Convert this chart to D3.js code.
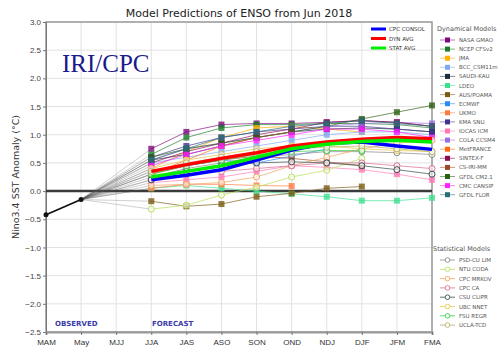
<!DOCTYPE html>
<html>
<head>
<meta charset="utf-8">
<script src="https://cdn.jsdelivr.net/npm/d3@7"></script>
<style>
  body { margin: 0; background: #fff; }
  svg { display: block; font-family: "DejaVu Sans", sans-serif; }
</style>
</head>
<body>
<div id="chart"></div>
<script>
// Seasons on the x axis
const seasons = ["MAM", "May", "MJJ", "JJA", "JAS", "ASO", "SON", "OND", "NDJ", "DJF", "JFM", "FMA"];
const forecastSeasons = seasons.slice(3);
const yTicks = [-2.5, -2.0, -1.5, -1.0, -0.5, 0.0, 0.5, 1.0, 1.5, 2.0, 2.5, 3.0];

// Observed values (MAM, May)
const observed = [-0.42, -0.15];

// Dynamical models, JJA..FMA
const dynNames = ["NASA GMAO", "NCEP CFSv2", "JMA", "BCC_CSM11m", "SAUDI-KAU", "LDEO", "AUS/POAMA", "ECMWF", "UKMO",
  "KMA SNU", "IOCAS ICM", "COLA CCSM4", "MetFRANCE", "SINTEX-F", "CS-IRI-MM", "GFDL CM2.1", "CMC CANSIP", "GFDL FLOR"];
const dynColors = ["#7d0a7d", "#1b7d2a", "#ffb000", "#7fa8f0", "#1e2d3c", "#3de08f", "#7a5a12", "#2a8cf0", "#ff7a40",
  "#3f3590", "#ff78b4", "#9a6ee0", "#ff6a10", "#8a0c55", "#9a4a28", "#2d5f12", "#ff20ff", "#2a6e7a"];
const dynValues = [
  [0.75, 1.05, 1.18, 1.20, 1.20, 1.22, 1.25, 1.22, 1.15],
  [0.65, 0.95, 1.12, 1.18, 1.18, 1.20, 1.20, 1.18, 1.12],
  [0.40, 0.70, 0.95, 1.12, 1.15, 1.10, 1.05, null, null],
  [0.50, 0.60, 0.70, 0.80, 0.90, 1.00, 1.05, 1.05, 1.00],
  [0.55, 0.65, 0.80, 0.95, 1.05, 1.10, 1.12, 1.10, 1.05],
  [0.05, 0.10, 0.05, 0.00, -0.05, -0.10, -0.17, -0.17, -0.12],
  [-0.18, -0.27, -0.23, -0.10, -0.04, 0.05, 0.08, null, null],
  [0.35, 0.45, 0.55, 0.50, 0.62, 0.75, null, null, null],
  [0.05, 0.12, 0.12, 0.10, 0.09, null, null, null, null],
  [0.60, 0.80, 0.95, 1.05, 1.10, 1.15, 1.15, 1.10, 1.05],
  [0.15, 0.20, 0.25, 0.35, 0.45, 0.42, 0.38, 0.30, 0.20],
  [0.55, 0.75, 0.85, 0.95, 1.05, 1.15, 1.20, 1.22, 1.20],
  [0.30, 0.55, 0.80, 0.95, 1.05, null, null, null, null],
  [0.50, 0.70, 0.85, 1.00, 1.10, 1.22, 1.25, 1.22, 1.15],
  [0.30, 0.45, 0.55, 0.62, 0.58, 0.52, 0.45, null, null],
  [0.60, 0.75, 0.85, 0.95, 1.05, 1.15, 1.28, 1.40, 1.52],
  [0.45, 0.65, 0.80, 0.90, 1.00, 1.10, 1.10, 1.05, 0.95],
  [0.55, 0.75, 0.95, 1.05, 1.15, 1.20, 1.25, 1.20, 1.15]
];

// Statistical models, JJA..FMA
const statNames = ["PSD-CU LIM", "NTU CODA", "CPC MRKOV", "CPC CA", "CSU CLIPR", "UBC NNET", "FSU REGR", "UCLA-TCD"];
const statColors = ["#8a8a8a", "#b8e05a", "#f4a460", "#d9708f", "#3a5050", "#e6c84a", "#3ccf4a", "#b8b070"];
const statValues = [
  [0.25, 0.40, 0.50, 0.60, 0.65, 0.70, 0.70, 0.68, 0.65],
  [-0.32, -0.25, -0.07, 0.07, 0.25, 0.37, 0.58, null, null],
  [0.10, 0.12, 0.15, 0.25, 0.45, 0.60, 0.75, 0.85, 0.90],
  [0.20, 0.30, 0.35, 0.40, 0.45, 0.50, 0.50, 0.45, 0.40],
  [0.20, 0.35, 0.45, 0.50, 0.52, 0.50, 0.45, 0.38, 0.30],
  [0.40, 0.55, 0.65, 0.75, 0.80, 0.80, 0.75, 0.72, 0.70],
  [0.30, 0.45, 0.55, 0.65, 0.70, 0.72, 0.72, null, null],
  [0.35, 0.50, 0.60, 0.70, 0.75, 0.78, 0.80, 0.75, 0.70]
];

// Averages, JJA..FMA
const avgNames = ["CPC CONSOL", "DYN AVG", "STAT AVG"];
const avgColors = ["#0000ff", "#ff0000", "#00ee00"];
const avgValues = [
  [0.20, 0.28, 0.38, 0.55, 0.73, 0.85, 0.87, 0.80, 0.74],
  [0.35, 0.47, 0.58, 0.68, 0.80, 0.87, 0.92, 0.95, 0.93],
  [0.25, 0.35, 0.45, 0.60, 0.75, 0.83, 0.88, 0.90, 0.87]
];

const width = 500, height = 354;
const margin = { top: 22, right: 68, bottom: 22, left: 46 };

const svg = d3.select("#chart").append("svg")
  .attr("width", width)
  .attr("height", height);

const x = d3.scalePoint().domain(seasons).range([margin.left, width - margin.right]);
const y = d3.scaleLinear().domain([-2.5, 3]).range([height - margin.bottom, margin.top]);

// Grid
svg.append("g").selectAll("line.vg")
  .data(seasons).enter().append("line")
  .attr("x1", d => x(d)).attr("x2", d => x(d))
  .attr("y1", margin.top).attr("y2", height - margin.bottom)
  .attr("stroke", "#e2e2e2").attr("stroke-width", 1);
svg.append("g").selectAll("line.hg")
  .data(yTicks).enter().append("line")
  .attr("x1", margin.left).attr("x2", width - margin.right)
  .attr("y1", d => y(d)).attr("y2", d => y(d))
  .attr("stroke", "#e2e2e2").attr("stroke-width", 1);

// Frame
svg.append("rect")
  .attr("x", margin.left).attr("y", margin.top)
  .attr("width", width - margin.left - margin.right)
  .attr("height", height - margin.top - margin.bottom)
  .attr("fill", "none").attr("stroke", "#9a9a9a").attr("stroke-width", 1.5);

// Axes
const yAxis = d3.axisLeft(y).tickValues(yTicks).tickFormat(d3.format(".1f")).tickSize(3).tickPadding(2);
const gy = svg.append("g").attr("transform", `translate(${margin.left},0)`).call(yAxis);
gy.select(".domain").attr("stroke", "#777");
gy.selectAll("text").attr("fill", "#444").style("font-size", "8px");
gy.selectAll("line").attr("stroke", "#777");

const xAxis = d3.axisBottom(x).tickSize(3).tickPadding(4);
const gx = svg.append("g").attr("transform", `translate(0,${height - margin.bottom})`).call(xAxis);
gx.select(".domain").attr("stroke", "#999").attr("stroke-width", 2);
gx.selectAll("text").attr("fill", "#333").style("font-size", "8px");
gx.selectAll("line").attr("stroke", "#777");

// Zero line
svg.append("line")
  .attr("x1", margin.left).attr("x2", width - margin.right)
  .attr("y1", y(0)).attr("y2", y(0))
  .attr("stroke", "#3a3a3a").attr("stroke-width", 2.5);

// Fan lines from last observation to each forecast start
const lastObs = observed[observed.length - 1];
const starts = dynValues.concat(statValues).map(v => v[0]);
svg.append("g").selectAll("line")
  .data(starts).enter().append("line")
  .attr("x1", x("May")).attr("y1", y(lastObs))
  .attr("x2", x("JJA")).attr("y2", d => y(d))
  .attr("stroke", "#555").attr("stroke-width", 0.6).attr("opacity", 0.45);

const line = d3.line()
  .defined(d => d.v !== null)
  .x(d => x(d.s))
  .y(d => y(d.v));

function toPoints(vals) {
  return vals.map((v, i) => ({ s: forecastSeasons[i], v: v }));
}

// Dynamical model lines with square markers
dynValues.forEach((vals, i) => {
  const pts = toPoints(vals);
  svg.append("path").datum(pts)
    .attr("d", line).attr("fill", "none")
    .attr("stroke", dynColors[i]).attr("stroke-width", 0.9).attr("opacity", 0.75);
  svg.append("g").selectAll("rect")
    .data(pts.filter(d => d.v !== null)).enter().append("rect")
    .attr("x", d => x(d.s) - 3).attr("y", d => y(d.v) - 3)
    .attr("width", 6).attr("height", 6)
    .attr("fill", dynColors[i]).attr("opacity", 0.8);
});

// Statistical model lines with open circle markers
statValues.forEach((vals, i) => {
  const pts = toPoints(vals);
  svg.append("path").datum(pts)
    .attr("d", line).attr("fill", "none")
    .attr("stroke", statColors[i]).attr("stroke-width", 0.9).attr("opacity", 0.8);
  svg.append("g").selectAll("circle")
    .data(pts.filter(d => d.v !== null)).enter().append("circle")
    .attr("cx", d => x(d.s)).attr("cy", d => y(d.v)).attr("r", 3)
    .attr("fill", "#fff").attr("fill-opacity", 0.6)
    .attr("stroke", statColors[i]).attr("stroke-width", 1);
});

// Average lines
avgValues.forEach((vals, i) => {
  svg.append("path").datum(toPoints(vals))
    .attr("d", line).attr("fill", "none")
    .attr("stroke", avgColors[i]).attr("stroke-width", 3.5);
});

// Observed
const obsPts = observed.map((v, i) => ({ s: seasons[i], v: v }));
svg.append("path").datum(obsPts)
  .attr("d", line).attr("fill", "none")
  .attr("stroke", "#111").attr("stroke-width", 1.8);
svg.append("g").selectAll("circle")
  .data(obsPts).enter().append("circle")
  .attr("cx", d => x(d.s)).attr("cy", d => y(d.v)).attr("r", 2.5)
  .attr("fill", "#111");

// Title and labels
svg.append("text")
  .attr("x", 239).attr("y", 17)
  .attr("text-anchor", "middle")
  .style("font-size", "11px").attr("fill", "#222")
  .text("Model Predictions of ENSO from Jun 2018");

svg.append("text")
  .attr("transform", "rotate(-90)")
  .attr("x", -(margin.top + (height - margin.top - margin.bottom) / 2) + 0)
  .attr("y", 19)
  .attr("text-anchor", "middle")
  .style("font-size", "9.5px").attr("fill", "#333")
  .text("Nino3.4 SST Anomaly (°C)");

svg.append("text")
  .attr("x", 62).attr("y", 72)
  .style("font-family", "'Liberation Serif', serif")
  .style("font-size", "25px").attr("fill", "#1a1a8c")
  .text("IRI/CPC");

svg.append("text")
  .attr("x", 55).attr("y", 326)
  .style("font-size", "7px").style("font-weight", "bold").attr("fill", "#3b3ba8")
  .text("OBSERVED");
svg.append("text")
  .attr("x", 152).attr("y", 326)
  .style("font-size", "7px").style("font-weight", "bold").attr("fill", "#3b3ba8")
  .text("FORECAST");

// Average legend inside the plot
const avgLeg = svg.append("g").selectAll("g")
  .data(avgNames).enter().append("g")
  .attr("transform", (d, i) => `translate(371,${29 + i * 9.5})`);
avgLeg.append("line")
  .attr("x1", 0).attr("x2", 15).attr("y1", 0).attr("y2", 0)
  .attr("stroke", (d, i) => avgColors[i]).attr("stroke-width", 3);
avgLeg.append("text")
  .attr("x", 18).attr("y", 2)
  .style("font-size", "5.5px").attr("fill", "#333")
  .text(d => d);

// Model legend on the right
svg.append("text")
  .attr("x", 437).attr("y", 31)
  .style("font-size", "6.5px").attr("fill", "#555")
  .text("Dynamical Models");

const dynLeg = svg.append("g").selectAll("g")
  .data(dynNames).enter().append("g")
  .attr("transform", (d, i) => `translate(440,${40 + i * 9.1})`);
dynLeg.append("line")
  .attr("x1", 0).attr("x2", 15).attr("y1", 0).attr("y2", 0)
  .attr("stroke", (d, i) => dynColors[i]).attr("stroke-width", 0.8).attr("opacity", 0.7);
dynLeg.append("rect")
  .attr("x", 5).attr("y", -2.5).attr("width", 5).attr("height", 5)
  .attr("fill", (d, i) => dynColors[i]);
dynLeg.append("text")
  .attr("x", 19).attr("y", 2)
  .style("font-size", "5.5px").attr("fill", "#555")
  .text(d => d);

svg.append("text")
  .attr("x", 433).attr("y", 251)
  .style("font-size", "6.5px").attr("fill", "#555")
  .text("Statistical Models");

const statLeg = svg.append("g").selectAll("g")
  .data(statNames).enter().append("g")
  .attr("transform", (d, i) => `translate(440,${260 + i * 9.3})`);
statLeg.append("line")
  .attr("x1", 0).attr("x2", 15).attr("y1", 0).attr("y2", 0)
  .attr("stroke", (d, i) => statColors[i]).attr("stroke-width", 0.8);
statLeg.append("circle")
  .attr("cx", 7.5).attr("cy", 0).attr("r", 2.3)
  .attr("fill", "#fff")
  .attr("stroke", (d, i) => statColors[i]).attr("stroke-width", 0.9);
statLeg.append("text")
  .attr("x", 19).attr("y", 2)
  .style("font-size", "5.5px").attr("fill", "#555")
  .text(d => d);
</script>
</body>
</html>
